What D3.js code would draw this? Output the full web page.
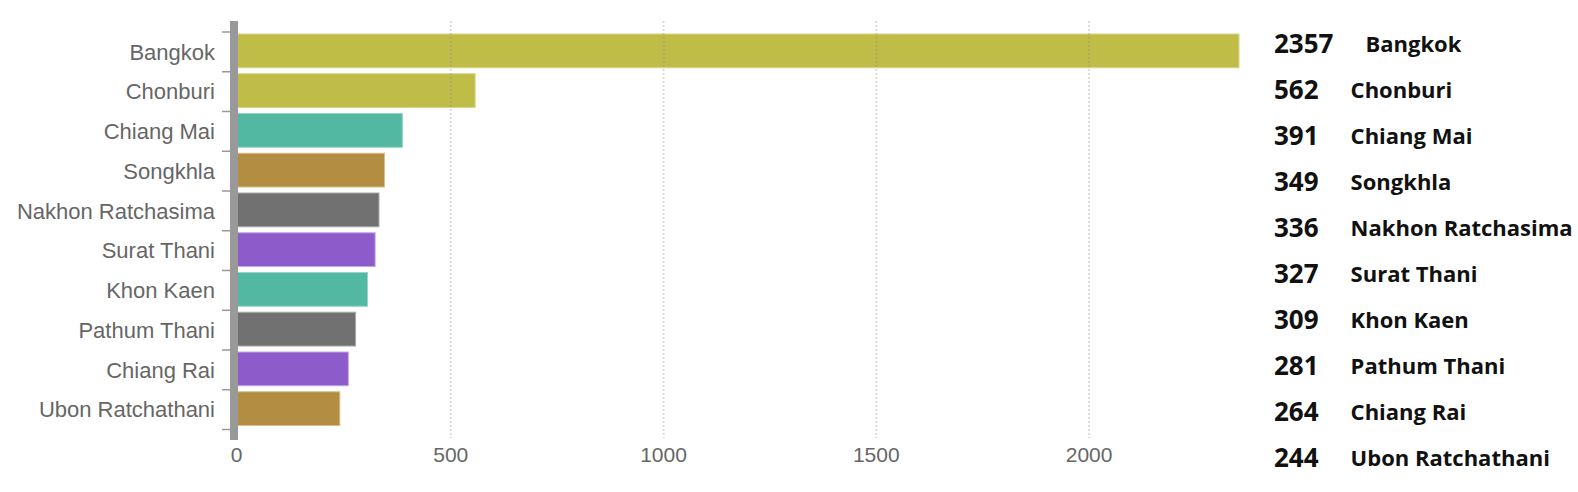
<!DOCTYPE html>
<html>
<head>
<meta charset="utf-8">
<script src="https://cdn.jsdelivr.net/npm/d3@7"></script>
<style>
  html, body { margin: 0; padding: 0; background: #fff; }
  svg { display: block; }
</style>
</head>
<body>
<svg id="chart" width="1578" height="492"></svg>
<script>
const provinces = ["Bangkok", "Chonburi", "Chiang Mai", "Songkhla", "Nakhon Ratchasima",
                   "Surat Thani", "Khon Kaen", "Pathum Thani", "Chiang Rai", "Ubon Ratchathani"];
const cases = [2357, 562, 391, 349, 336, 327, 309, 281, 264, 244];
const colorGroups = ["olive", "olive", "teal", "gold", "gray", "purple", "teal", "gray", "purple", "gold"];
const xTicks = [0, 500, 1000, 1500, 2000];

const palette = {
  olive: "#bfbd47", teal: "#52b8a1", gold: "#b38d42", gray: "#717171", purple: "#8e5bcb"
};
const paletteEdge = {
  olive: "#d6d58a", teal: "#95d6c6", gold: "#d9c08e", gray: "#a8a8a8", purple: "#c7a8ea"
};

const data = provinces.map((p, i) => ({ name: p, value: cases[i], group: colorGroups[i] }));

const svg = d3.select("#chart");

const x = d3.scaleLinear().domain([0, 2357]).range([236, 1239]);
const y = d3.scaleBand().domain(provinces).range([32, 429.5]).padding(0);

// bars
svg.append("g").selectAll("rect").data(data).join("rect")
  .attr("x", x(0))
  .attr("y", d => y(d.name) + y.bandwidth() * 0.05)
  .attr("width", d => x(d.value) - x(0))
  .attr("height", y.bandwidth() * 0.85)
  .attr("fill", d => palette[d.group])
  .attr("stroke", d => paletteEdge[d.group])
  .attr("stroke-width", 1);

// gridlines (on top of bars)
svg.append("g").selectAll("line").data(xTicks.filter(t => t > 0)).join("line")
  .attr("x1", d => x(d) + 2).attr("x2", d => x(d) + 2)
  .attr("y1", 21).attr("y2", 438)
  .attr("stroke", "#888")
  .attr("stroke-opacity", 0.3)
  .attr("stroke-width", 2)
  .attr("stroke-dasharray", "2,2");

// y-axis ticks
const tickPos = provinces.map(p => y(p)).concat([y.range()[1]]);
svg.append("g").selectAll("line").data(tickPos).join("line")
  .attr("x1", 222).attr("x2", 231)
  .attr("y1", d => d).attr("y2", d => d)
  .attr("stroke", "#999").attr("stroke-width", 1.5);

// thick axis bar
svg.append("rect")
  .attr("x", 230).attr("y", 21).attr("width", 8).attr("height", 419)
  .attr("fill", "#999");

// y labels
svg.append("g").selectAll("text").data(provinces).join("text")
  .attr("x", 215)
  .attr("y", d => y(d) + y.bandwidth() / 2)
  .attr("dy", "0.35em")
  .attr("text-anchor", "end")
  .attr("font-family", "Liberation Sans, Arial, sans-serif")
  .attr("font-size", 22)
  .attr("fill", "#666")
  .text(d => d);

// x labels
svg.append("g").selectAll("text").data(xTicks).join("text")
  .attr("x", d => x(d) + (d === 0 ? 0.5 : 2))
  .attr("y", 461.5)
  .attr("text-anchor", "middle")
  .attr("font-family", "Liberation Sans, Arial, sans-serif")
  .attr("font-size", 21)
  .attr("fill", "#666")
  .text(d => d);

// right-side list
const yr = d3.scalePoint().domain(provinces).range([52.7, 466.7]);
const rows = svg.append("g").selectAll("g").data(data).join("g");
rows.append("text")
  .attr("class", "num")
  .attr("x", 1274)
  .attr("y", d => yr(d.name))
  .attr("font-family", "Open Sans, sans-serif")
  .attr("font-weight", 700)
  .attr("font-size", 26)
  .attr("fill", "#111")
  .text(d => d.value);
rows.each(function(d) {
  const g = d3.select(this);
  const w = g.select("text.num").node().getComputedTextLength();
  g.append("text")
    .attr("x", 1274 + w + 32)
    .attr("y", yr(d.name) - 1)
    .attr("font-family", "Open Sans, sans-serif")
    .attr("font-weight", 700)
    .attr("font-size", 22)
    .attr("fill", "#111")
    .text(d.name);
});
</script>
</body>
</html>
